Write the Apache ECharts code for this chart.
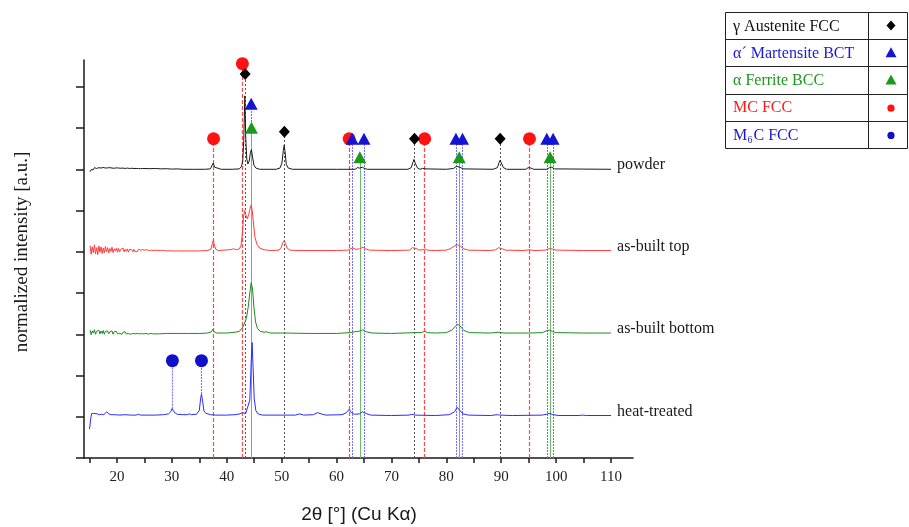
<!DOCTYPE html>
<html>
<head>
<meta charset="utf-8">
<title>XRD patterns</title>
<script src="https://cdn.jsdelivr.net/npm/echarts@6/dist/echarts.min.js"></script>
<style>
  html, body { margin: 0; padding: 0; background: #fff; }
  #chart { width: 909px; height: 527px; }
</style>
</head>
<body>
<div id="chart"></div>
<script>
// ---- Diffraction patterns: [2θ, intensity above own baseline] ----
const sampleNames = ['powder', 'as-built top', 'as-built bottom', 'heat-treated'];
const baselineOffsets = [7, 5, 3, 1];

// noisy low-angle stretch, sampled every 0.2° from 15.1°
const noiseStart = 15.1;
const noiseStep = 0.2;
const powderNoise = [
  -0.06,-0.01,0.03,-0.01,0.04,0.0,0.02,0.03,0.04,0.0,
  0.03,0.01,0.045,0.015,0.03,-0.005,0.035,0.01,0.04,0.005,
  0.03,0.015,0.025,0.02,0.035,0.005,0.03,0.0,0.025,0.01,
  0.03,0.005,0.02,0.015,0.03,0.0,0.02,0.01,0.025,0.0,
  0.02,0.01,0.02,0.0,0.02,0.01,0.015,0.0,0.02,0.01
];
const topNoise = [
  0.15,-0.06,0.12,-0.02,0.17,-0.05,0.1,-0.07,0.14,-0.01,
  0.12,-0.04,0.09,-0.02,0.13,0.0,0.1,-0.03,0.08,0.01,
  0.11,-0.02,0.07,0.02,0.09,-0.01,0.08,0.0,0.06,0.02,
  0.09,0.0,0.06,0.01,0.07,-0.01,0.06,0.02,0.05,0.0,
  0.06,0.01,0.05,0.0,0.06,0.02,0.04,0.0,0.05,0.01,
  0.04,0.0,0.05,0.02,0.03,0.0,0.04,0.01,0.03,0.0,
  0.04,0.01,0.03,0.0,0.035,0.01,0.025,0.0,0.03,0.01,
  0.02,0.01,0.025,0.0,0.02
];
const bottomNoise = [
  0.1,-0.01,0.08,0.03,0.11,0.0,0.07,0.03,0.1,0.01,
  0.08,0.02,0.09,0.0,0.07,0.03,0.08,0.01,0.06,0.02,
  0.08,0.0,0.06,0.03,0.07,0.01,0.05,0.02,0.06,0.0,
  0.05,0.03,0.06,0.01,0.04,0.02,0.05,0.0,0.045,0.02,
  0.04,0.01,0.045,0.02,0.03,0.01,0.04,0.015,0.03,0.01,
  0.035,0.02,0.03,0.005,0.03,0.02,0.025,0.01,0.03,0.01,
  0.02,0.01,0.025,0.01,0.02
];

const powderPeaks = [
  [26,0.015],[27,0.02],[28,0.01],[29,0.015],[30,0.005],[31,0.01],[32,0.0],[34,0.0],[36,0.0],
  [37.0,0.01],[37.3,0.05],[37.55,0.15],[37.8,0.05],[38.1,0.01],[39,0.0],[41,0.0],
  [42.3,0.01],[42.65,0.06],[42.9,0.18],[43.1,0.7],[43.3,1.78],[43.45,0.8],[43.65,0.25],[43.85,0.13],
  [44.1,0.2],[44.3,0.4],[44.5,0.48],[44.7,0.3],[44.95,0.1],[45.3,0.03],[46,0.0],[49,0.0],
  [49.7,0.03],[50.05,0.15],[50.3,0.45],[50.45,0.58],[50.6,0.45],[50.85,0.12],[51.2,0.03],[52,0.0],
  [60,0.0],[63.4,0.0],[63.8,0.04],[64.2,0.03],[64.7,0.05],[65.1,0.02],[65.6,0.0],
  [73,0.0],[73.6,0.04],[73.9,0.16],[74.1,0.24],[74.3,0.16],[74.7,0.04],[75.2,0.0],
  [75.7,0.02],[76.0,0.04],[76.3,0.01],[80,0.0],[81.3,0.02],[81.8,0.07],[82.1,0.08],[82.5,0.05],[83,0.01],
  [88.5,0.0],[89.3,0.04],[89.6,0.16],[89.8,0.22],[90.0,0.16],[90.4,0.04],[91,0.0],
  [94.5,0.0],[94.9,0.04],[95.1,0.07],[95.4,0.03],[95.9,0.0],[98.3,0.0],[98.8,0.04],[99.2,0.05],[99.7,0.01],[110,0.0]
];
const topPeaks = [
  [31,0.02],[33,0.02],[35,0.02],[36.5,0.03],[37.1,0.06],[37.35,0.18],[37.55,0.28],[37.75,0.16],[38.0,0.06],
  [38.5,0.03],[39.5,0.04],[40.5,0.05],[41.2,0.07],[41.8,0.05],[42.3,0.07],[42.6,0.15],[42.85,0.45],
  [43.05,0.85],[43.25,1.0],[43.45,0.9],[43.75,0.8],[44.0,0.9],[44.25,1.05],[44.45,1.13],[44.65,1.0],
  [44.9,0.65],[45.15,0.35],[45.5,0.18],[46.0,0.09],[46.8,0.05],[48,0.03],[49.5,0.04],[49.9,0.1],
  [50.2,0.22],[50.45,0.27],[50.7,0.2],[51.0,0.09],[51.5,0.04],[53,0.03],[57,0.03],[60,0.03],
  [62.0,0.04],[62.6,0.08],[63.0,0.09],[63.5,0.06],[64.2,0.07],[64.8,0.11],[65.3,0.07],[66,0.04],
  [70,0.03],[73.3,0.04],[73.8,0.1],[74.1,0.13],[74.5,0.08],[75.0,0.04],[75.7,0.05],[76.1,0.07],[76.5,0.04],
  [78,0.03],[80,0.04],[80.8,0.08],[81.5,0.14],[82.0,0.17],[82.5,0.14],[83.2,0.07],[84,0.04],
  [88,0.03],[89.0,0.05],[89.5,0.1],[89.8,0.11],[90.2,0.07],[90.8,0.04],[94,0.03],[95.1,0.05],[96,0.03],
  [98,0.04],[98.8,0.08],[99.3,0.07],[100,0.04],[105,0.03],[110,0.03]
];
const bottomPeaks = [
  [29,0.02],[31,0.02],[33,0.02],[35,0.02],[36.5,0.03],[37.1,0.05],[37.45,0.12],[37.7,0.06],[38.2,0.03],
  [40,0.03],[41.5,0.05],[42.3,0.07],[42.8,0.15],[43.2,0.25],[43.6,0.4],[43.9,0.65],[44.2,1.0],
  [44.45,1.25],[44.7,1.1],[44.95,0.65],[45.25,0.3],[45.6,0.14],[46.1,0.07],[46.8,0.05],[47.2,0.06],
  [48,0.03],[50.2,0.03],[50.5,0.05],[50.8,0.03],[55,0.02],[60,0.02],[62.5,0.04],[63.3,0.06],
  [64.3,0.08],[64.8,0.11],[65.4,0.06],[66.5,0.03],[70,0.02],[74.2,0.04],[75.5,0.04],[76.0,0.07],
  [76.6,0.04],[78,0.03],[80,0.04],[81.0,0.1],[81.7,0.2],[82.1,0.24],[82.5,0.2],[83.2,0.09],[84.2,0.04],
  [88,0.03],[89.6,0.05],[90.5,0.03],[95,0.03],[97.5,0.04],[98.4,0.09],[98.8,0.1],[99.3,0.07],
  [100,0.04],[105,0.03],[110,0.03]
];
const heatTreated = [
  [15.0,-0.3],[15.1,-0.2],[15.25,-0.02],[15.4,0.08],[15.6,0.05],[15.8,0.08],[16.1,0.05],[16.4,0.07],
  [16.8,0.05],[17.2,0.06],[17.6,0.05],[17.95,0.06],[18.15,0.12],[18.3,0.15],[18.5,0.07],[18.9,0.05],
  [19.5,0.05],[20.5,0.04],[21.5,0.05],[22.5,0.04],[23.5,0.04],[23.9,0.06],[24.3,0.04],[25.5,0.04],
  [27,0.04],[28.5,0.05],[29.4,0.07],[29.8,0.12],[30.05,0.2],[30.3,0.14],[30.6,0.09],[31.0,0.06],
  [32,0.05],[32.8,0.05],[33.2,0.07],[33.6,0.05],[34.5,0.06],[35.0,0.15],[35.25,0.45],[35.4,0.55],
  [35.6,0.38],[35.85,0.14],[36.2,0.08],[36.6,0.07],[37.0,0.05],[38,0.04],[40,0.04],[41.5,0.05],
  [42.4,0.07],[42.8,0.1],[43.15,0.12],[43.45,0.08],[43.8,0.1],[44.2,0.4],[44.45,1.3],[44.62,1.8],
  [44.8,1.2],[45.0,0.45],[45.3,0.15],[45.7,0.07],[46.5,0.04],[50,0.04],[52.5,0.04],[53.3,0.07],
  [54.0,0.04],[55.8,0.05],[56.5,0.1],[56.8,0.12],[57.2,0.07],[58,0.04],[61.0,0.05],[61.8,0.1],
  [62.3,0.18],[62.7,0.1],[63.3,0.06],[64.2,0.07],[64.7,0.12],[65.0,0.14],[65.4,0.08],[66.2,0.04],
  [70,0.03],[73.2,0.04],[73.7,0.06],[74.3,0.04],[78,0.03],[80.5,0.05],[81.5,0.12],[81.95,0.23],
  [82.2,0.24],[82.5,0.15],[83.0,0.07],[84,0.04],[88,0.03],[89.3,0.05],[89.7,0.04],[92,0.03],
  [97.5,0.04],[98.5,0.07],[98.9,0.08],[99.4,0.05],[100.5,0.03],[104.2,0.03],[104.8,0.04],[105.5,0.03],[110,0.03]
];

// ---- Phase reference positions: [2θ, marker height, line foot] ----
const austeniteRefs = [[43.35, 9.31], [50.5, 7.91], [74.2, 7.74], [89.8, 7.74]];
const martensiteRefs = [[44.45, 8.59], [62.85, 7.74], [65.0, 7.74], [81.75, 7.74], [82.95, 7.74], [98.3, 7.74], [99.45, 7.74]];
const ferriteRefs = [[44.5, 8.01], [64.25, 7.29], [82.35, 7.29], [98.9, 7.29]];
const mcRefs = [[37.6, 7.74], [42.85, 9.56], [62.3, 7.74], [76.05, 7.74], [95.15, 7.74]];
const m6cRefs = [[30.1, 2.36, 1.2], [35.4, 2.36, 1.55]];

// ---- Axis ticks ----
const xTickValues = [15,20,25,30,35,40,45,50,55,60,65,70,75,80,85,90,95,100,105,110];
const xLabelValues = [20,30,40,50,60,70,80,90,100,110];
const yTickValues = [0,1,2,3,4,5,6,7,8,9];

const SERIF = "'Liberation Serif', 'Times New Roman', serif";
const SANS = "'Liberation Sans', Arial, sans-serif";

function withNoise(noise, peaks) {
  const pts = noise.map((v, i) => [+(noiseStart + i * noiseStep).toFixed(2), v]);
  return pts.concat(peaks);
}
const patterns = [
  withNoise(powderNoise, powderPeaks),
  withNoise(topNoise, topPeaks),
  withNoise(bottomNoise, bottomPeaks),
  heatTreated
];
const lineColors = ['#1a1a1a', '#ff3c3c', '#1c8c1c', '#2a2aff'];

const series = patterns.map((pts, k) => ({
  name: sampleNames[k],
  type: 'line',
  data: pts.map(p => [p[0], p[1] + baselineOffsets[k]]),
  showSymbol: false,
  symbol: 'none',
  z: 3,
  lineStyle: { color: lineColors[k], width: 1 },
  endLabel: {
    show: true,
    formatter: sampleNames[k],
    distance: 6,
    offset: [0, -4],
    color: '#1a1a1a',
    fontFamily: SERIF,
    fontSize: 16
  }
}));

function phaseSeries(refs, symbol, size, color, lineColor, lineType, lineWidth) {
  return {
    type: 'scatter',
    data: refs.map(r => [r[0], r[1]]),
    symbol: symbol,
    symbolSize: size,
    itemStyle: { color: color, opacity: 1 },
    z: 5,
    markLine: {
      silent: true,
      symbol: ['none', 'none'],
      label: { show: false },
      z: 2,
      lineStyle: { color: lineColor, type: lineType, width: lineWidth, opacity: 1 },
      data: refs.map(r => [{ coord: [r[0], r.length > 2 ? r[2] : 0] }, { coord: [r[0], r[1]] }])
    }
  };
}

series.push(phaseSeries(mcRefs, 'circle', 13, '#ff1212', '#ff4a4a', [4, 2], 1.2));
series.push(phaseSeries(austeniteRefs, 'diamond', [11, 12], '#000000', '#555555', [2, 2], 1));
series.push(phaseSeries(martensiteRefs, 'triangle', [13, 12], '#1414d2', '#7070ff', [2, 1], 1));
series.push(phaseSeries(ferriteRefs, 'triangle', [13, 12], '#1c981c', '#6cbc6c', 'solid', 1));
series.push(phaseSeries(m6cRefs, 'circle', 13, '#1010c8', '#7a7aff', [2, 1], 1.2));

// ---- Phase key table ----
const keyX = 725, keyY = 12, keyW = 182, rowH = 27.2, colX = 868, symX = 891;
const keyRows = [
  { text: 'γ Austenite FCC', color: '#111111' },
  { text: 'α´ Martensite BCT', color: '#1a1ad0' },
  { text: 'α Ferrite BCC', color: '#1c981c' },
  { text: 'MC FCC', color: '#ff1a1a' },
  { text: null, color: '#1a1ad0' }
];
const keyGraphics = [];
keyGraphics.push({ type: 'rect', shape: { x: keyX + 0.5, y: keyY + 0.5, width: keyW, height: rowH * 5 }, style: { fill: '#fff', stroke: '#222', lineWidth: 1 } });
for (let i = 1; i < 5; i++) {
  const y = Math.round(keyY + rowH * i) + 0.5;
  keyGraphics.push({ type: 'line', shape: { x1: keyX, y1: y, x2: keyX + keyW, y2: y }, style: { stroke: '#222', lineWidth: 1 } });
}
keyGraphics.push({ type: 'line', shape: { x1: colX + 0.5, y1: keyY, x2: colX + 0.5, y2: keyY + rowH * 5 }, style: { stroke: '#222', lineWidth: 1 } });
keyRows.forEach((row, i) => {
  const cy = keyY + rowH * (i + 0.5) + 1;
  if (row.text) {
    keyGraphics.push({ type: 'text', x: keyX + 8, y: cy, style: { text: row.text, fill: row.color, font: '16px ' + SERIF, verticalAlign: 'middle', align: 'left' } });
  } else {
    keyGraphics.push({ type: 'text', x: keyX + 8, y: cy, style: { text: 'M', fill: row.color, font: '16px ' + SERIF, verticalAlign: 'middle' } });
    keyGraphics.push({ type: 'text', x: keyX + 22.5, y: cy + 5, style: { text: '6', fill: row.color, font: '10px ' + SERIF, verticalAlign: 'middle' } });
    keyGraphics.push({ type: 'text', x: keyX + 28.5, y: cy, style: { text: 'C FCC', fill: row.color, font: '16px ' + SERIF, verticalAlign: 'middle' } });
  }
});
const ky = i => keyY + rowH * (i + 0.5);
keyGraphics.push({ type: 'polygon', shape: { points: [[symX, ky(0) - 5], [symX + 4.5, ky(0)], [symX, ky(0) + 5], [symX - 4.5, ky(0)]] }, style: { fill: '#000' } });
keyGraphics.push({ type: 'polygon', shape: { points: [[symX, ky(1) - 5.5], [symX + 5.5, ky(1) + 4.5], [symX - 5.5, ky(1) + 4.5]] }, style: { fill: '#1414d2' } });
keyGraphics.push({ type: 'polygon', shape: { points: [[symX, ky(2) - 5.5], [symX + 5.5, ky(2) + 4.5], [symX - 5.5, ky(2) + 4.5]] }, style: { fill: '#1c981c' } });
keyGraphics.push({ type: 'circle', shape: { cx: symX, cy: ky(3) + 1, r: 3.6 }, style: { fill: '#ff1212' } });
keyGraphics.push({ type: 'circle', shape: { cx: symX, cy: ky(4) + 1, r: 3.6 }, style: { fill: '#1010c8' } });

// axis titles
keyGraphics.push({ type: 'text', x: 359, y: 515, style: { text: '2θ [°] (Cu Kα)', fill: '#1a1a1a', font: '19px ' + SANS, align: 'center', verticalAlign: 'middle' } });
keyGraphics.push({ type: 'text', x: 22, y: 252, rotation: Math.PI / 2, style: { text: 'normalized intensity [a.u.]', fill: '#1a1a1a', font: '19px ' + SERIF, align: 'center', verticalAlign: 'middle' } });

const chart = echarts.init(document.getElementById('chart'), null, { renderer: 'canvas' });
chart.setOption({
  animation: false,
  backgroundColor: '#ffffff',
  grid: { left: 84, right: 276, top: 60, bottom: 69, containLabel: false },
  xAxis: {
    type: 'value',
    min: 14,
    max: 114,
    axisLine: { show: true, onZero: false, lineStyle: { color: '#1a1a1a', width: 1.5 } },
    axisTick: { show: true, customValues: xTickValues, length: 5, lineStyle: { color: '#1a1a1a', width: 1.5 } },
    axisLabel: { show: true, customValues: xLabelValues, margin: 12, color: '#222', fontFamily: SERIF, fontSize: 15 },
    splitLine: { show: false }
  },
  yAxis: {
    type: 'value',
    min: 0,
    max: 9.65,
    axisLine: { show: true, onZero: false, lineStyle: { color: '#1a1a1a', width: 1.5 } },
    axisTick: { show: true, customValues: yTickValues, length: 8, lineStyle: { color: '#1a1a1a', width: 1.5 } },
    axisLabel: { show: false },
    splitLine: { show: false }
  },
  graphic: keyGraphics,
  series: series
});
</script>
</body>
</html>
